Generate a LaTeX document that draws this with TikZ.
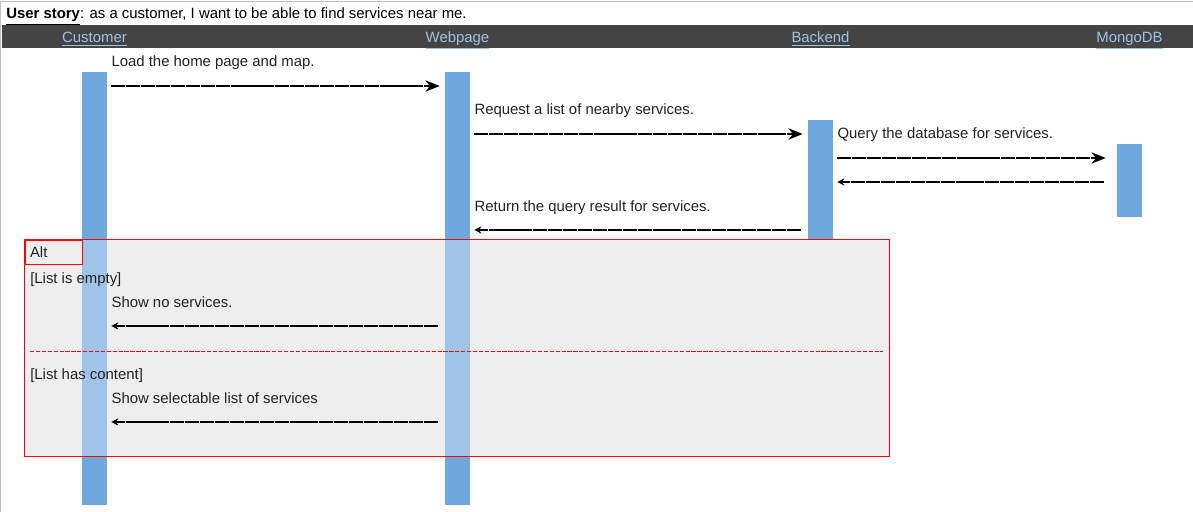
\documentclass[tikz,border=0pt]{standalone}
\usepackage{fontspec}
\setmainfont{Liberation Sans}
\usetikzlibrary{arrows.meta,positioning}
\definecolor{headgray}{RGB}{68,68,68}
\definecolor{linkblue}{RGB}{157,195,230}
\definecolor{barblue}{RGB}{111,168,220}
\definecolor{barlight}{RGB}{160,196,232}
\definecolor{altfill}{RGB}{238,238,238}
\definecolor{altred}{RGB}{255,0,0}
\definecolor{inkgray}{RGB}{34,34,34}

\begin{document}
\begin{tikzpicture}[
    x=0.025cm, y=-0.025cm,
    every node/.style={font=\fontsize{10.6}{12.7}\selectfont, text=inkgray},
    actor/.style={anchor=base, inner sep=0pt, text=linkblue},
    bar/.style={fill=barblue, minimum width=0.625cm, inner sep=0pt},
    msg/.style={anchor=base west, inner sep=0pt},
    call/.style={-{Stealth[length=10pt,width=8pt,inset=3pt]}, line width=1.5pt, dash pattern=on 10pt off 0.6pt},
    reply/.style={-{Stealth[length=5pt,width=5pt]}, line width=1.5pt, dash pattern=on 10pt off 0.6pt},
    altbox/.style={fill=altfill, inner sep=0pt},
    altline/.style={draw=altred, line width=0.7pt},
]
\useasboundingbox (0,0) rectangle (1193,512);

% ─────────────────────────────────────────
% Frame and title
% ─────────────────────────────────────────
\draw[black!25, line width=0.7pt] (0.5,512) -- (0.5,1) -- (1193,1);
\node[anchor=base west, inner sep=0pt, text=black] (story) at (6,19)
    {\underline{\textbf{User story}}: as a customer, I want to be able to find services near me.};

% Header band
\fill[headgray] (2,25) rectangle (1193,48);

% ─────────────────────────────────────────
% Activation bars
% ─────────────────────────────────────────
\node[bar, minimum height=10.825cm] (cust)  at (94.5,288.5) {};
\node[bar, minimum height=10.825cm] (web)   at (457.5,288.5) {};
\node[bar, minimum height=3cm]      (back)  at (820.5,180) {};
\node[bar, minimum height=1.825cm]  (mongo) at (1129.5,180.5) {};

% Actor labels
\node[actor] (hcust)  at (cust |- 0,43)  {\underline{Customer}};
\node[actor] (hweb)   at (web |- 0,43)   {\underline{Webpage}};
\node[actor] (hback)  at (back |- 0,43)  {\underline{Backend}};
\node[actor] (hmongo) at (mongo |- 0,43) {\underline{MongoDB}};

% ─────────────────────────────────────────
% Alt fragment
% ─────────────────────────────────────────
\node[altbox, minimum width=21.6cm, minimum height=5.4cm] (alt) at (457,348) {};
\fill[barlight] (cust.west |- alt.north) rectangle (cust.east |- alt.south);
\fill[barlight] (web.west |- alt.north) rectangle (web.east |- alt.south);
\draw[altline] (alt.north west) rectangle (alt.south east);
\node[altline, anchor=north west, minimum width=1.425cm, minimum height=0.6cm,
      inner xsep=3.5pt, text width=1.178cm, align=left] (altlab) at (alt.north west) {Alt};
\draw[altred, line width=0.5pt, dash pattern=on 3pt off 1.2pt] (30,351) -- (883,351);
\node[msg] (g1) at (30,283) {[List is empty]};
\node[msg] (g2) at (30,379) {[List has content]};

% ─────────────────────────────────────────
% Messages
% ─────────────────────────────────────────
\node[msg] (m1) at ([xshift=0.1cm]cust.east |- 0,67) {Load the home page and map.};
\draw[call] ([xshift=0.1cm]cust.east |- 0,86) -- ([xshift=-0.125cm]web.west |- 0,86);

\node[msg] (m2) at ([xshift=0.1cm]web.east |- 0,115) {Request a list of nearby services.};
\draw[call] ([xshift=0.1cm]web.east |- 0,134) -- ([xshift=-0.125cm]back.west |- 0,134);

\node[msg] (m3) at ([xshift=0.1cm]back.east |- 0,139) {Query the database for services.};
\draw[call] ([xshift=0.1cm]back.east |- 0,158) -- ([xshift=-0.275cm]mongo.west |- 0,158);
\draw[reply] ([xshift=-0.325cm]mongo.west |- 0,182) -- ([xshift=0.1cm]back.east |- 0,182);

\node[msg] (m4) at ([xshift=0.1cm]web.east |- 0,211) {Return the query result for services.};
\draw[reply] ([xshift=-0.175cm]back.west |- 0,230) -- ([xshift=0.1cm]web.east |- 0,230);

\node[msg] (m5) at ([xshift=0.1cm]cust.east |- 0,307) {Show no services.};
\draw[reply] ([xshift=-0.175cm]web.west |- 0,326) -- ([xshift=0.1cm]cust.east |- 0,326);

\node[msg] (m6) at ([xshift=0.1cm]cust.east |- 0,403) {Show selectable list of services};
\draw[reply] ([xshift=-0.175cm]web.west |- 0,422) -- ([xshift=0.1cm]cust.east |- 0,422);

\end{tikzpicture}
\end{document}
